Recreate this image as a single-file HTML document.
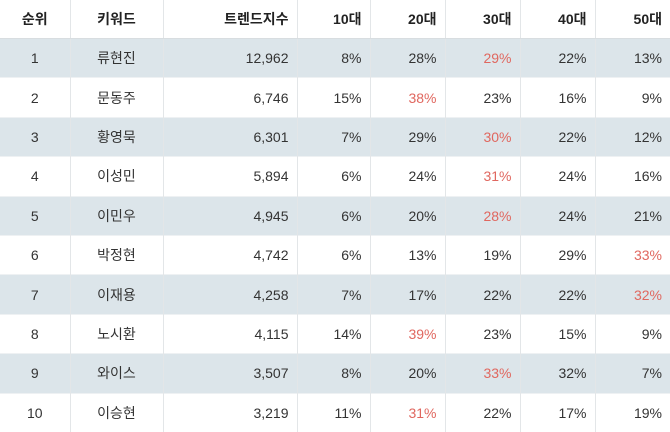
<!DOCTYPE html>
<html><head><meta charset="utf-8"><style>
body{margin:0;background:#fff;}
table{border-collapse:collapse;width:670px;height:432px;table-layout:fixed;font-family:"Liberation Sans","Noto Sans CJK KR",sans-serif;font-size:14px;color:#333;}
th{font-weight:bold;height:38px;color:#222;border-bottom:1px solid #d8dde0;}
td{height:38px;border-top:1px solid #eef1f3;}
th,td{border-left:1px solid #e3e6e8;padding:0 8px;}
th:first-child,td:first-child{border-left:none;}
tr.s td{background:#dce5ea;}
.c{text-align:center}.r{text-align:right}
.h{color:#e0675f}
</style></head><body>
<table>
<colgroup><col style="width:70px"><col style="width:93px"><col style="width:134px"><col style="width:73px"><col style="width:75px"><col style="width:75px"><col style="width:75px"><col style="width:75px"></colgroup>
<thead><tr>
<th class="c">순위</th>
<th class="c">키워드</th>
<th class="r">트렌드지수</th>
<th class="r">10대</th>
<th class="r">20대</th>
<th class="r">30대</th>
<th class="r">40대</th>
<th class="r">50대</th>
</tr></thead>
<tbody id="tb"></tbody></table>
<script>
const names=["류현진","문동주","황영묵","이성민","이민우","박정현","이재용","노시환","와이스","이승현"];
const scores=["12,962","6,746","6,301","5,894","4,945","4,742","4,258","4,115","3,507","3,219"];
const ages=[[8,28,29,22,13],[15,38,23,16,9],[7,29,30,22,12],[6,24,31,24,16],[6,20,28,24,21],[6,13,19,29,33],[7,17,22,22,32],[14,39,23,15,9],[8,20,33,32,7],[11,31,22,17,19]];
const tb=document.getElementById('tb');
names.forEach((n,i)=>{
  const tr=document.createElement('tr');
  
  
  if(i%2===0)tr.className='s';
  const mx=Math.max(...ages[i]);
  let h='<td class="c">'+(i+1)+'</td><td class="c">'+n+'</td><td class="r">'+scores[i]+'</td>';
  ages[i].forEach((v,j)=>{h+='<td class="r'+(v===mx&&j>0?' h':'')+'">'+v+'%</td>';});
  tr.innerHTML=h;
  tb.appendChild(tr);
});
</script>
</body></html>
